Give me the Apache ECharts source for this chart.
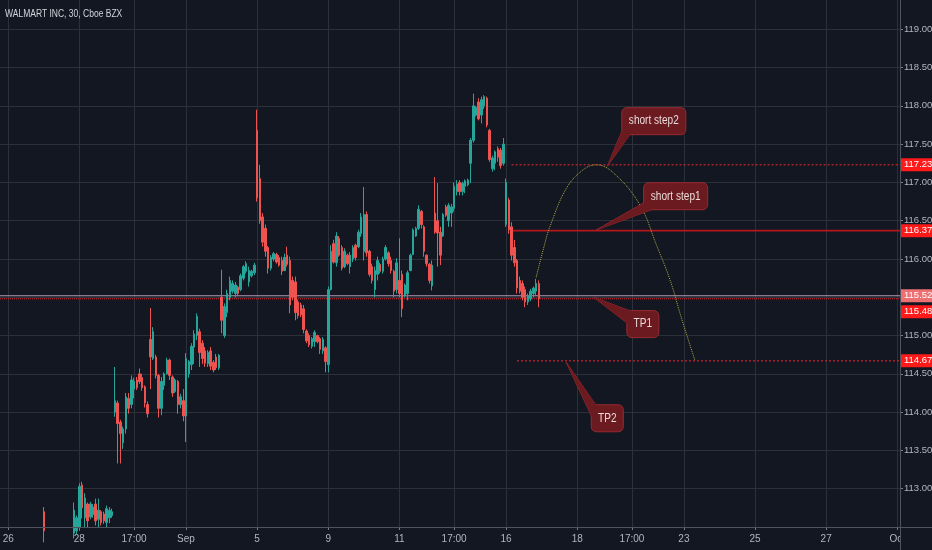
<!DOCTYPE html>
<html>
<head>
<meta charset="utf-8">
<script src="https://cdn.jsdelivr.net/npm/echarts@6/dist/echarts.min.js"></script>
<style>
html, body { margin: 0; padding: 0; background: #131722; }
#chart { width: 932px; height: 550px; }
</style>
</head>
<body>
<div id="chart"></div>
<script>
var FONT = "'Liberation Sans', Arial, sans-serif";

// 30 min bars: [open, close, low, high], index = bar slot on the time axis
var ohlc = [
  [112.30,112.36,112.22,112.40],[112.36,112.28,112.24,112.40],[112.28,112.33,112.20,112.38],[112.33,112.25,112.18,112.37],
  [112.25,112.20,112.12,112.30],[112.20,112.27,112.15,112.32],[112.27,112.22,112.16,112.31],[112.22,112.30,112.18,112.34],
  [112.30,112.34,112.25,112.40],[112.34,112.28,112.22,112.39],[112.28,112.35,112.24,112.42],[112.35,112.40,112.30,112.44],
  [112.40,112.36,112.30,112.45],[112.36,112.42,112.32,112.46],[112.42,112.45,112.36,112.47],[112.45,112.40,112.33,112.47],
  [112.70,112.45,112.30,112.76],[112.45,112.38,112.30,112.47],[112.38,112.32,112.25,112.42],[112.32,112.28,112.20,112.36],
  [112.28,112.34,112.22,112.38],[112.34,112.30,112.24,112.40],[112.30,112.36,112.25,112.41],[112.36,112.33,112.28,112.42],
  [112.33,112.38,112.27,112.43],[112.38,112.35,112.30,112.44],[112.35,112.40,112.30,112.45],
  // Aug 28
  [112.42,112.72,112.35,112.82],[112.45,112.62,112.40,112.65],[112.50,113.03,112.45,113.07],[113.05,112.75,112.61,113.09],
  [112.62,112.88,112.50,112.94],[112.80,112.58,112.50,112.82],[112.63,112.80,112.60,112.83],[112.66,112.76,112.62,112.80],
  [112.80,112.58,112.52,112.87],[112.60,112.72,112.50,112.87],[112.70,112.56,112.52,112.72],[112.67,112.58,112.54,112.70],
  [112.56,112.74,112.50,112.78],[112.62,112.72,112.55,112.76],[112.65,112.70,112.62,112.74],
  // Aug 29
  [114.00,114.15,113.94,114.59],[114.12,113.85,113.33,114.15],[113.87,113.72,113.33,113.90],[113.60,113.78,113.52,113.81],
  [113.78,114.20,113.72,114.25],[114.18,114.05,113.98,114.25],[114.10,114.42,114.05,114.48],[114.30,114.40,114.18,114.45],
  [114.42,114.32,114.29,114.46],[114.50,114.40,114.37,114.57],[114.45,114.32,114.28,114.50],[114.33,114.12,114.06,114.35],
  [114.10,113.98,113.93,114.14],
  // Aug 30
  [114.95,114.72,114.30,115.36],[114.70,115.05,114.68,115.11],[114.72,114.48,114.44,114.75],[114.48,114.05,113.93,114.50],
  [114.05,114.40,113.96,114.46],[114.35,114.50,114.29,114.52],[114.50,114.68,114.49,114.71],[114.68,114.48,114.42,114.70],
  [114.46,114.25,114.20,114.48],[114.27,114.42,114.25,114.44],[114.40,114.10,113.98,114.42],[114.10,114.20,114.05,114.24],
  [114.15,113.95,113.88,114.30],
  // Sep 3
  [113.95,114.70,113.61,114.77],[114.50,114.66,114.45,114.68],[114.62,114.86,114.55,114.90],[114.85,115.02,114.63,115.07],
  [115.00,115.25,114.94,115.29],[115.05,114.78,114.59,115.09],[114.90,114.70,114.63,114.94],[114.80,114.64,114.59,114.85],
  [114.63,114.78,114.59,114.81],[114.80,114.60,114.55,114.85],[114.65,114.55,114.52,114.68],[114.72,114.58,114.55,114.76],
  [114.58,114.74,114.55,114.76],
  // Sep 4
  [115.50,115.20,115.03,115.86],[115.00,115.38,114.97,115.42],[115.30,115.55,115.24,115.60],[115.50,115.72,115.46,115.77],
  [115.58,115.68,115.55,115.72],[115.55,115.66,115.50,115.70],[115.63,115.55,115.52,115.65],[115.60,115.78,115.58,115.81],
  [115.75,115.90,115.72,115.92],[115.84,115.94,115.81,115.97],[115.70,115.85,115.64,115.90],[115.78,115.84,115.76,115.86],
  [115.82,115.92,115.79,115.95],
  // Sep 5
  [117.68,116.80,116.75,117.95],[117.05,116.50,116.46,117.23],[116.55,116.22,116.16,116.60],[116.40,116.10,116.03,116.45],
  [116.15,115.88,115.81,116.17],[115.88,116.02,115.85,116.05],[116.00,116.07,115.97,116.09],[116.06,115.96,115.94,116.08],
  [116.02,115.92,115.90,116.05],[115.98,115.84,115.79,116.03],[115.85,116.02,115.84,116.07],[116.05,115.93,115.90,116.16],
  [115.98,115.40,115.29,116.03],
  // Sep 6
  [115.72,115.50,115.46,115.77],[115.70,115.30,115.20,115.77],[115.44,115.26,115.22,115.47],[115.40,115.27,115.24,115.43],
  [115.35,115.08,115.03,115.40],[115.06,114.93,114.90,115.08],[115.00,114.88,114.85,115.03],[114.86,114.96,114.83,114.98],
  [114.92,115.04,114.85,115.07],[115.00,114.92,114.90,115.01],[114.96,114.82,114.76,114.98],[114.80,114.95,114.76,114.98],
  [114.84,114.66,114.52,114.86],
  // Sep 9
  [114.62,115.60,114.52,115.64],[115.60,116.10,115.59,116.18],[116.20,115.96,115.94,116.25],[115.95,116.30,115.90,116.35],
  [116.27,116.05,116.03,116.30],[116.15,115.88,115.85,116.18],[115.90,116.10,115.88,116.14],[116.05,115.94,115.92,116.07],
  [115.90,116.05,115.81,116.09],[116.00,116.15,115.96,116.18],[116.18,116.02,115.98,116.20],[116.16,116.35,116.14,116.38],
  [116.33,116.55,116.29,116.60],
  // Sep 10
  [116.10,116.58,115.98,116.94],[116.58,116.08,116.03,116.62],[116.10,115.80,115.77,116.12],[115.90,115.72,115.68,115.94],
  [115.60,115.85,115.50,115.90],[115.80,115.98,115.72,116.03],[115.93,115.84,115.81,115.95],[115.84,116.00,115.81,116.03],
  [116.00,116.15,115.98,116.18],[116.08,115.94,115.90,116.10],[115.98,115.85,115.81,116.03],[115.84,115.58,115.50,115.86],
  [115.60,115.95,115.55,116.01],
  // Sep 11
  [115.72,115.55,115.50,116.27],[115.80,115.35,115.24,115.85],[115.52,115.66,115.50,115.68],[115.55,115.82,115.46,115.85],
  [115.85,116.05,115.84,116.07],[116.06,116.38,116.05,116.40],[116.30,116.40,116.29,116.42],[116.40,116.65,116.38,116.70],
  [116.62,116.45,116.40,116.64],[116.42,116.10,116.03,116.44],[116.05,115.94,115.90,116.06],[115.93,115.72,115.68,115.95],
  [115.65,115.92,115.59,115.98],
  // Sep 12
  [116.60,116.35,116.33,117.07],[116.50,116.34,115.90,116.99],[116.35,116.05,115.92,116.42],[116.30,116.58,116.29,116.60],
  [116.68,116.57,116.55,116.71],[116.50,116.70,116.42,116.73],[116.60,116.68,116.42,116.72],[116.66,116.95,116.62,117.00],
  [116.88,116.98,116.83,117.03],[117.00,116.88,116.83,117.03],[116.88,116.99,116.83,117.01],[116.95,117.02,116.86,117.04],
  [116.97,117.03,116.95,117.05],
  // Sep 13
  [117.25,117.55,116.99,117.58],[117.55,118.00,117.52,118.16],[117.88,117.98,117.86,118.00],[118.05,117.83,117.81,118.10],
  [117.88,118.08,117.77,118.12],[118.00,118.12,117.96,118.14],[118.10,117.75,117.72,118.12],[117.68,117.30,117.27,117.70],
  [117.18,117.32,117.14,117.35],[117.25,117.40,117.16,117.42],[117.44,117.33,117.27,117.47],[117.42,117.22,117.18,117.45],
  [117.25,117.50,117.22,117.58],
  // Sep 16
  [116.45,117.00,116.42,117.05],[116.77,116.38,116.33,116.80],[116.42,116.05,115.98,116.48],[116.15,115.95,115.90,116.25],
  [115.98,115.62,115.55,116.00],[115.72,115.58,115.55,115.77],[115.68,115.50,115.46,115.72],[115.60,115.44,115.37,115.64],
  [115.44,115.52,115.40,115.55],[115.48,115.58,115.45,115.61],[115.55,115.62,115.50,115.64],[115.58,115.68,115.53,115.74],
  [115.68,115.48,115.37,115.72]
];

var barCount = 330;
var tickIndex = [3, 29, 49, 68, 94, 120, 146, 166, 185, 211, 231, 250, 276, 302, 328];
var tickText = ['26', '28', '17:00', 'Sep', '5', '9', '11', '17:00', '16', '18', '17:00', '23', '25', '27', 'Oct'];

var priceMin = 112.5, priceMax = 119.5, priceStep = 0.5;

// horizontal rays drawn on the chart
var rayPrice = [117.23, 116.37, 114.67];
var rayStart = [187, 187, 189];
var alertPrice = 115.52;
var lastPrice = 115.48;

// dotted arc (bar slot, price)
var arcX = [196, 199, 201, 207, 213, 218, 225, 234, 240, 245, 249, 254];
var arcY = [115.76, 116.18, 116.42, 116.92, 117.16, 117.23, 117.10, 116.70, 116.18, 115.72, 115.24, 114.68];

// callouts: label, point it aims at, box centre
var noteText = ['short step2', 'short step1', 'TP1', 'TP2'];
var noteTip = [[222, 117.21], [218, 116.38], [217, 115.50], [207, 114.65]];
var noteBox = [[239, 117.80], [247, 116.82], [235, 115.15], [222, 113.92]];

var cats = [];
for (var i = 0; i < barCount; i++) cats.push(String(i));

function isTick(i) { return tickIndex.indexOf(i) >= 0; }

function priceTag(bg, offsetY) {
  return {
    show: true,
    distance: 0,
    offset: [0, offsetY || 0],
    formatter: function (p) { return p.value[1].toFixed(2); },
    backgroundColor: bg,
    color: '#ffffff',
    fontFamily: FONT,
    fontSize: 9.5,
    padding: [2, 3, 1, 4]
  };
}

var series = [{
  type: 'candlestick',
  data: ohlc,
  barWidth: 2,
  z: 5,
  itemStyle: {
    color: '#26a69a', color0: '#ef5350',
    borderColor: '#26a69a', borderColor0: '#ef5350',
    borderWidth: 1
  }
}];

series.push({
  type: 'line', symbol: 'none', silent: true, z: 3,
  data: [[0, alertPrice], [barCount - 1, alertPrice]],
  lineStyle: { color: '#b59ab6', width: 1 },
  endLabel: priceTag('#ec6f72')
});
series.push({
  type: 'line', symbol: 'none', silent: true, z: 3,
  data: [[0, lastPrice], [barCount - 1, lastPrice]],
  lineStyle: { color: '#e3262c', width: 1, type: 'dotted' },
  endLabel: priceTag('#ff1a1a', 13)
});
rayPrice.forEach(function (p, k) {
  series.push({
    type: 'line', symbol: 'none', silent: true, z: 3,
    data: [[rayStart[k], p], [barCount - 1, p]],
    lineStyle: k === 1 ? { color: '#b3171c', width: 1.6 }
                       : { color: '#f0282e', width: 1, type: [2, 2] },
    endLabel: priceTag('#ff1a1a')
  });
});
series.push({
  type: 'line', symbol: 'none', silent: true, z: 4, smooth: 0.4,
  data: arcX.map(function (x, k) { return [x, arcY[k]]; }),
  lineStyle: { color: '#b1ab44', width: 1, type: 'dotted' }
});

var chart = echarts.init(document.getElementById('chart'));
chart.setOption({
  backgroundColor: '#131722',
  animation: false,
  grid: { left: 0, right: 32, top: -9, bottom: 23, containLabel: false, outerBoundsMode: 'none' },
  xAxis: {
    type: 'category',
    data: cats,
    boundaryGap: false,
    axisLine: { lineStyle: { color: '#50535e' } },
    axisTick: { interval: isTick, length: 3, lineStyle: { color: '#787b86' } },
    axisLabel: {
      interval: isTick,
      formatter: function (v, i) { var k = tickIndex.indexOf(i); return k >= 0 ? tickText[k] : ''; },
      color: '#b2b5be', fontSize: 10, fontFamily: FONT, margin: 7
    },
    splitLine: { show: true, interval: isTick, lineStyle: { color: '#2c303b', width: 1 } }
  },
  yAxis: {
    type: 'value',
    position: 'right',
    min: priceMin, max: priceMax, interval: priceStep,
    axisLine: { show: true, lineStyle: { color: '#50535e' } },
    axisTick: { show: true, length: 3, lineStyle: { color: '#787b86' } },
    axisLabel: {
      showMinLabel: false, showMaxLabel: false,
      formatter: function (v) { return v.toFixed(2); },
      color: '#b2b5be', fontSize: 9.5, fontFamily: FONT, margin: 4
    },
    splitLine: { show: true, lineStyle: { color: '#2c303b', width: 1 } }
  },
  series: series
});

// callout boxes, placed from chart coordinates
var ctx = document.createElement('canvas').getContext('2d');
ctx.font = '12px ' + FONT;
var squeeze = 0.84;
var fill = '#6b1a20', edge = '#9b2a30';
var g = [];
noteText.forEach(function (t, k) {
  var tip = chart.convertToPixel({ gridIndex: 0 }, noteTip[k]);
  var c = chart.convertToPixel({ gridIndex: 0 }, noteBox[k]);
  var w = Math.round(ctx.measureText(t).width * squeeze + 14), h = 27;
  var L = c[0] - w / 2, T = c[1] - h / 2, B = T + h;
  var a, b;
  if (tip[1] > B) { a = [L + 2, B - 8]; b = [L + 8, B]; }
  else { a = [L + 5, T + 1]; b = [L + 1, T + 13]; }
  g.push({ type: 'polygon', z: 100, shape: { points: [tip, a, b] }, style: { fill: fill, stroke: edge, lineWidth: 1 } });
  g.push({ type: 'rect', z: 101, shape: { x: L, y: T, width: w, height: h, r: 5 }, style: { fill: fill, stroke: edge, lineWidth: 1 } });
  g.push({ type: 'polygon', z: 102, shape: { points: [tip, a, b] }, style: { fill: fill } });
  g.push({ type: 'text', z: 103, x: c[0], y: c[1], scaleX: squeeze,
    style: { text: t, x: 0, y: 0, align: 'center', verticalAlign: 'middle', fill: '#eadada', font: '12px ' + FONT } });
});
// title
g.push({ type: 'text', z: 110, x: 5, y: 14, scaleX: 0.74,
  style: { text: 'WALMART INC, 30, Cboe BZX', x: 0, y: 0, verticalAlign: 'middle', fill: '#d1d4dc', font: '11.5px ' + FONT } });
// axis panel frame lines
g.push({ type: 'rect', z: 90, shape: { x: 901, y: 528, width: 31, height: 22 }, style: { fill: '#131722' } });
g.push({ type: 'line', z: 91, shape: { x1: 0, y1: 527.5, x2: 932, y2: 527.5 }, style: { stroke: '#50535e', lineWidth: 1 } });
g.push({ type: 'line', z: 91, shape: { x1: 900.5, y1: 0, x2: 900.5, y2: 550 }, style: { stroke: '#50535e', lineWidth: 1 } });
chart.setOption({ graphic: g });
</script>
</body>
</html>
